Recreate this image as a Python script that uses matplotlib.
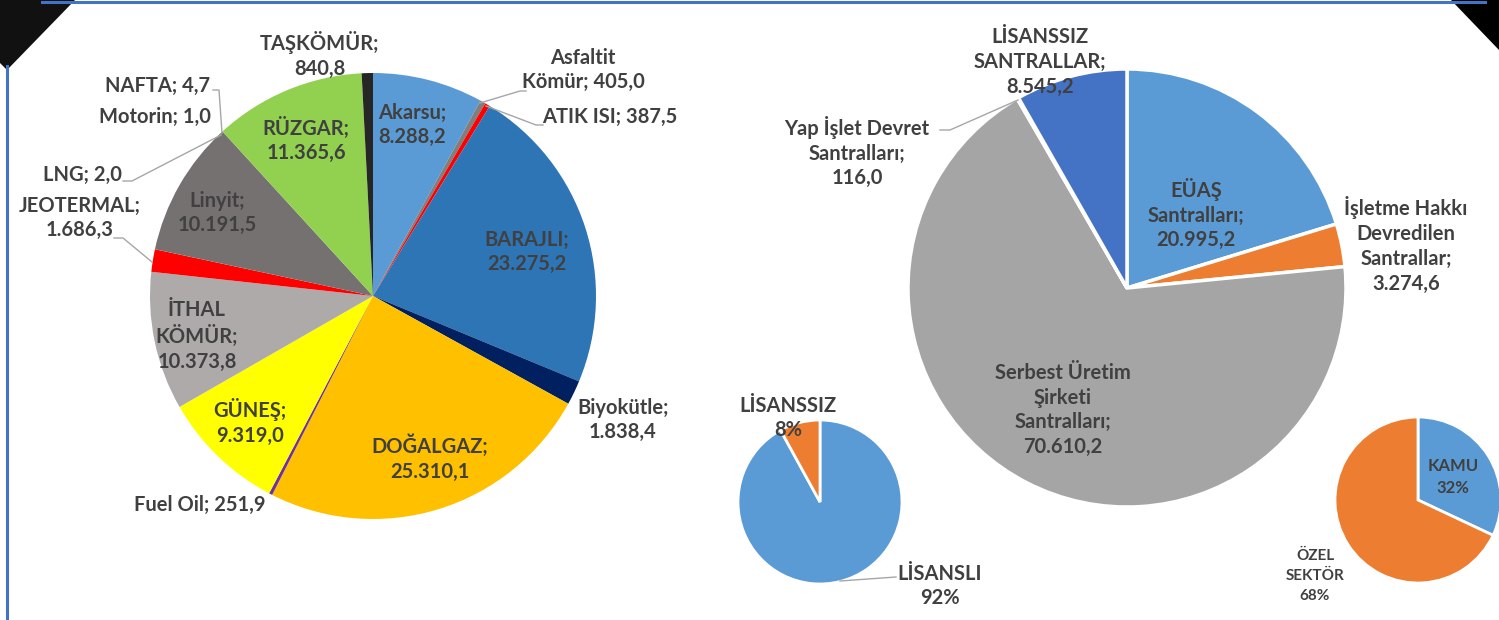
import numpy as np
import matplotlib.pyplot as plt
from matplotlib.patches import Polygon

plt.rcParams['font.family'] = ['Lato', 'DejaVu Sans']

# kurulu guc - kaynaklara gore (MW)
kaynak = ["Akarsu", "Asfaltit\nKömür", "ATIK ISI", "BARAJLI", "Biyokütle",
          "DOĞALGAZ", "Fuel Oil", "GÜNEŞ", "İTHAL\nKÖMÜR", "JEOTERMAL",
          "LNG", "Linyit", "Motorin", "NAFTA", "RÜZGAR", "TAŞKÖMÜR"]
kaynak_mw = [8288.2, 405.0, 387.5, 23275.2, 1838.4, 25310.1, 251.9, 9319.0,
             10373.8, 1686.3, 2.0, 10191.5, 1.0, 4.7, 11365.6, 840.8]
kaynak_sep = ["\n", " ", " ", "\n", "\n", "\n", " ", "\n", "\n", "\n",
              " ", "\n", " ", " ", "\n", "\n"]
kaynak_renk = ["#5B9BD5", "#7F7F7F", "#FF0000", "#2E75B6", "#002060",
               "#FFC000", "#7030A0", "#FFFF00", "#AEAAAA", "#FF0000",
               "#A9D18E", "#767171", "#C55A11", "#843C0C", "#92D050", "#262626"]

# kurulu guc - kuruluslara gore (MW)
kurulus = ["EÜAŞ\nSantralları", "İşletme Hakkı\nDevredilen\nSantrallar",
           "Serbest Üretim\nŞirketi\nSantralları", "Yap İşlet Devret\nSantralları",
           "LİSANSSIZ\nSANTRALLAR"]
kurulus_mw = [20995.2, 3274.6, 70610.2, 116.0, 8545.2]
kurulus_renk = ["#5B9BD5", "#ED7D31", "#A5A5A5", "#FFC000", "#4472C4"]

lisans = ["LİSANSLI", "LİSANSSIZ"]
lisans_pay = [92, 8]
sektor = ["KAMU", "ÖZEL\nSEKTÖR"]
sektor_pay = [32, 68]

W, H = 1499, 620
def Y(y):
    return H - y

def tr(v):
    s = f"{v:,.1f}"
    return s.replace(",", "_").replace(".", ",").replace("_", ".")

fig = plt.figure(figsize=(W / 100, H / 100), dpi=100)
ax = fig.add_axes([0, 0, 1, 1])

txt = dict(color="#404040", fontweight="bold", fontsize=14.5, ha="center",
           va="center", linespacing=1.3, multialignment="center")
lead = dict(color="#A6A6A6", lw=1)

# sol pasta
ax.pie(kaynak_mw, colors=kaynak_renk, startangle=90, counterclock=False,
       center=(373, Y(296)), radius=223, frame=True)

kaynak_xy = [(412, 125), (583, 70), (610, 117), (527, 252), (623, 420),
             (430, 458), (200, 505), (250, 422), (197, 336), (80, 218),
             (82, 175), (217, 213), (155, 117), (158, 86), (306, 140), (320, 55)]
for ad, mw, sep, (x, y) in zip(kaynak, kaynak_mw, kaynak_sep, kaynak_xy):
    ax.text(x, Y(y), f"{ad};{sep}{tr(mw)}", **txt)

for pts in [[(480, 103), (520, 91), (526, 91)],
            [(486, 106), (536, 125), (543, 125)],
            [(152, 262), (123, 238), (114, 238)],
            [(221, 135), (132, 181), (123, 181)],
            [(222, 133), (219, 90), (213, 90)]]:
    xs, ys = zip(*pts)
    ax.plot(xs, [Y(v) for v in ys], **lead)

# sag pasta
ax.pie(kurulus_mw, colors=kurulus_renk, startangle=90, counterclock=False,
       center=(1127, Y(288)), radius=219, frame=True,
       wedgeprops=dict(edgecolor="white", linewidth=2.5))

kurulus_xy = [(1196, 214), (1406, 245), (1063, 410), (857, 152), (1040, 62)]
for ad, mw, (x, y) in zip(kurulus, kurulus_mw, kurulus_xy):
    ax.text(x, Y(y), f"{ad};\n{tr(mw)}", **txt)
ax.plot([1018, 950, 940], [Y(100), Y(130), Y(130)], **lead)

# kucuk pastalar
ax.pie(lisans_pay, colors=["#5B9BD5", "#ED7D31"], startangle=90,
       counterclock=False, center=(820, Y(502)), radius=82, frame=True,
       wedgeprops=dict(edgecolor="white", linewidth=2))
ax.text(940, Y(586), f"{lisans[0]}\n{lisans_pay[0]}%", **txt)
ax.text(788, Y(418), f"{lisans[1]}\n{lisans_pay[1]}%", **txt)
ax.plot([840, 896], [Y(581), Y(577)], **lead)

ax.pie(sektor_pay, colors=["#5B9BD5", "#ED7D31"], startangle=90,
       counterclock=False, center=(1418, Y(500)), radius=83, frame=True,
       wedgeprops=dict(edgecolor="white", linewidth=2))
ax.text(1453, Y(477), f"{sektor[0]}\n{sektor_pay[0]}%",
        **{**txt, "fontsize": 12, "linespacing": 1.5})
ax.text(1315, Y(576), f"{sektor[1]}\n{sektor_pay[1]}%",
        **{**txt, "fontsize": 11, "linespacing": 1.5})

# slayt cercevesi
ax.plot([42, 1485], [Y(2), Y(2)], color="#4472C4", lw=2.2)
ax.plot([7, 7], [Y(66), Y(620)], color="#4472C4", lw=2.2)
ax.add_patch(Polygon([(0, Y(0)), (75, Y(0)), (7, Y(70)), (0, Y(63))],
                     closed=True, color="#111111", lw=0))
ax.add_patch(Polygon([(1451, Y(0)), (1499, Y(0)), (1499, Y(50))],
                     closed=True, color="black", lw=0))

ax.set_xlim(0, W)
ax.set_ylim(0, H)
ax.set_aspect("equal")
ax.axis("off")
fig.savefig("out.png", dpi=100)
